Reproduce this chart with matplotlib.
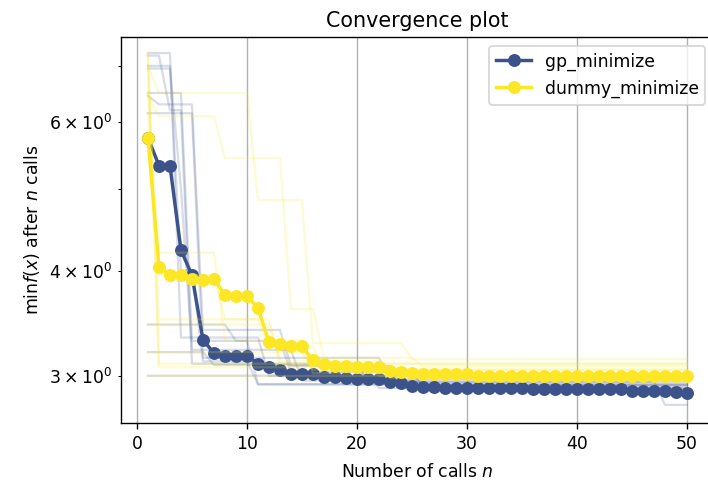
import matplotlib
matplotlib.use("Agg")
import matplotlib.pyplot as plt
from matplotlib import cm
import numpy as np

# best objective value found after n calls, averaged over the runs
gp_mean = [5.75, 5.33, 5.33, 4.23, 3.95, 3.31, 3.19, 3.17, 3.17, 3.17,
           3.10, 3.07, 3.05, 3.01, 3.01, 3.01, 2.99, 2.99, 2.98, 2.97,
           2.97, 2.97, 2.95, 2.94, 2.92, 2.91, 2.91, 2.90, 2.90, 2.90,
           2.90, 2.90, 2.90, 2.90, 2.90, 2.89, 2.89, 2.89, 2.89, 2.89,
           2.89, 2.89, 2.89, 2.89, 2.88, 2.88, 2.88, 2.88, 2.87, 2.86]
dummy_mean = [5.75, 4.04, 3.95, 3.95, 3.91, 3.90, 3.91, 3.74, 3.73, 3.73,
              3.61, 3.29, 3.27, 3.25, 3.25, 3.13, 3.10, 3.08, 3.08, 3.07,
              3.07, 3.07, 3.04, 3.03, 3.02, 3.01, 3.01, 3.01, 3.01, 3.01,
              3.00, 3.00, 3.00, 3.00, 3.00, 3.00, 3.00, 3.00, 3.00, 3.00,
              3.00, 3.00, 3.00, 3.00, 3.00, 3.00, 3.00, 3.00, 3.00, 3.00]

# running minimum of every single run
gp_runs = [
    [7.25] * 3 + [3.33] * 8 + [3.0] * 14 + [2.92] * 25,
    [7.0] * 3 + [4.0] * 2 + [3.12] * 5 + [2.93] * 40,
    [6.45] + [6.3] * 4 + [3.4] * 8 + [3.08] * 10 + [2.9] * 27,
    [6.15] * 5 + [3.15] * 17 + [2.97] * 28,
    [6.95] * 3 + [5.0] + [3.22] * 10 + [2.96] * 11 + [2.88] * 25,
    [7.2] * 2 + [6.2] * 2 + [3.1] * 16 + [2.95] * 27 + [2.77] * 3,
    [6.5] * 4 + [3.3] * 6 + [2.93] * 40,
    [3.45] * 8 + [3.3] * 5 + [3.03] * 12 + [2.92] * 25,
    [3.2] * 6 + [3.09] * 14 + [2.95] * 30,
    [3.0] * 21 + [2.9] * 29,
]
dummy_runs = [
    [7.25] + [3.07] * 20 + [3.0] * 29,
    [7.0] + [6.5] * 9 + [4.85] * 5 + [3.28] * 9 + [3.14] * 26,
    [6.45] + [6.1] * 6 + [5.44] * 6 + [3.6] * 3 + [3.15] * 9 + [3.08] * 25,
    [6.15] + [3.95] * 6 + [3.5] * 5 + [3.1] * 38,
    [6.95] + [3.5] * 10 + [3.25] * 5 + [3.05] * 34,
    [7.2] + [3.1] * 49,
    [6.5] + [4.2] * 6 + [3.3] * 8 + [3.02] * 35,
    [3.45] * 12 + [3.12] * 10 + [2.98] * 28,
    [3.2] * 15 + [3.05] * 35,
    [3.0] * 50,
]

names = ["gp_minimize", "dummy_minimize"]
iterations = np.arange(1, len(gp_mean) + 1)

fig = plt.figure(figsize=(708 / 124, 480 / 124), dpi=124)
ax = fig.add_axes([121 / 708, 57 / 480, 593 / 708, 386 / 480])

colors = cm.viridis(np.linspace(0.25, 1.0, 2))
for runs, mean, name, color in zip([gp_runs, dummy_runs], [gp_mean, dummy_mean], names, colors):
    for m in runs:
        ax.plot(iterations, m, c=color, alpha=0.2, lw=1.3)
    ax.plot(iterations, mean, c=color, marker=".", markersize=13, lw=2, label=name)

ax.set_yscale("log")
ax.set_xlim(-1.45, 52.45)
ax.set_ylim(2.636, 7.575)
ax.set_title("Convergence plot")
ax.set_xlabel("Number of calls $n$", labelpad=6)
ax.set_ylabel(r"$\min f(x)$ after $n$ calls")
ax.grid()
ax.legend(loc="upper right")

fig.savefig("out.png", dpi=124)
